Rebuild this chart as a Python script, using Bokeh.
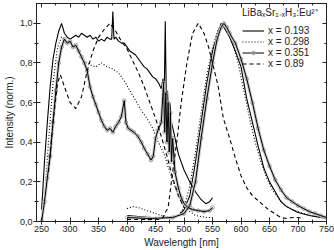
from bokeh.plotting import figure
from bokeh.models import (LinearAxis, Range1d, Legend, LegendItem,
                          CustomJSTickFormatter, FixedTicker)
from bokeh.embed import file_html
from bokeh.resources import INLINE

# ---- data ----
# x = 0.193 (solid)
ex193_wl = [250, 255, 260, 265, 270, 275, 280, 285, 290, 295, 300, 305, 310, 315, 320, 325, 330, 335, 340, 345,
            350, 355, 360, 365, 370, 373, 375, 377, 380, 385, 390, 395, 400, 405, 410, 415, 420, 425, 430, 435,
            440, 445, 450, 455, 460, 463, 465, 467, 469, 471, 473, 475, 478, 482, 490, 500, 510, 520, 530, 538, 545, 550]
ex193_i = [0.06, 0.30, 0.50, 0.68, 0.82, 0.90, 0.96, 1.00, 0.95, 0.93, 0.92, 0.93, 0.94, 0.93, 0.95, 0.94, 0.93, 0.94, 0.92, 0.93,
           0.91, 0.92, 0.91, 0.93, 0.92, 0.92, 1.06, 0.92, 0.93, 0.91, 0.90, 0.90, 0.88, 0.86, 0.85, 0.84, 0.82, 0.80, 0.78, 0.77,
           0.75, 0.73, 0.72, 0.70, 0.67, 0.72, 0.60, 1.01, 0.58, 0.66, 0.52, 0.60, 0.50, 0.45, 0.34, 0.26, 0.20, 0.15, 0.11, 0.09, 0.10, 0.12]
em193_wl = [400, 420, 440, 460, 480, 490, 500, 510, 520, 530, 540, 550, 557, 565, 572, 580, 590, 600, 610, 620,
            630, 640, 650, 660, 670, 680, 690, 700, 720, 740, 750]
em193_i = [0.03, 0.025, 0.02, 0.02, 0.02, 0.03, 0.06, 0.13, 0.30, 0.50, 0.70, 0.86, 0.93, 1.00, 0.97, 0.93, 0.86, 0.78, 0.62, 0.50,
           0.38, 0.27, 0.20, 0.15, 0.10, 0.075, 0.06, 0.045, 0.03, 0.02, 0.015]

# x = 0.298 (dotted)
ex298_wl = [255, 262, 270, 278, 285, 295, 305, 315, 325, 335, 345, 355, 365, 375, 385, 395, 405, 415, 425, 435,
            445, 455, 465, 475, 485, 495, 505, 520, 540, 550]
ex298_i = [0.10, 0.40, 0.70, 0.88, 0.93, 0.91, 0.89, 0.86, 0.81, 0.79, 0.78, 0.80, 0.78, 0.77, 0.75, 0.71, 0.66, 0.61, 0.56, 0.52,
           0.47, 0.40, 0.34, 0.25, 0.17, 0.10, 0.06, 0.03, 0.02, 0.02]
em298_wl = [400, 410, 420, 430, 440, 450, 460, 470, 480, 490, 500, 510, 520, 530, 540, 550, 560, 567, 575, 585,
            595, 605, 615, 625, 635, 645, 655, 665, 675, 690, 710, 730, 750]
em298_i = [0.065, 0.075, 0.07, 0.06, 0.05, 0.04, 0.03, 0.025, 0.02, 0.03, 0.07, 0.18, 0.35, 0.55, 0.74, 0.88, 0.97, 1.00, 0.97, 0.90,
           0.80, 0.66, 0.52, 0.40, 0.30, 0.22, 0.16, 0.12, 0.085, 0.06, 0.04, 0.025, 0.02]

# x = 0.351 (solid with grey circles)
ex351_wl = [250, 255, 260, 265, 270, 275, 280, 285, 290, 295, 300, 305, 310, 315, 320, 325, 330, 335, 340, 345,
            350, 355, 360, 365, 370, 375, 380, 385, 390, 395, 398, 402, 407, 412, 419, 425, 430, 436, 442, 446,
            450, 454, 460, 464, 466, 468, 470, 472, 474, 476, 478, 480, 484, 490, 495, 500, 507, 515, 525, 535, 545, 550]
ex351_i = [0.00, 0.10, 0.22, 0.33, 0.50, 0.66, 0.80, 0.88, 0.92, 0.90, 0.91, 0.88, 0.89, 0.86, 0.83, 0.80, 0.76, 0.68, 0.63, 0.59,
           0.55, 0.51, 0.48, 0.46, 0.47, 0.45, 0.48, 0.50, 0.53, 0.61, 0.50, 0.47, 0.46, 0.45, 0.43, 0.40, 0.37, 0.34, 0.31, 0.33,
           0.42, 0.46, 0.50, 0.70, 0.45, 0.65, 0.40, 0.60, 0.35, 0.55, 0.30, 0.42, 0.25, 0.17, 0.12, 0.09, 0.07, 0.06, 0.055, 0.05, 0.055, 0.07]
em351_wl = [400, 440, 480, 500, 510, 520, 530, 540, 550, 558, 565, 570, 575, 580, 590, 600, 610, 620, 630, 640,
            650, 660, 670, 680, 690, 700, 710, 720, 730, 740, 750]
em351_i = [0.02, 0.015, 0.02, 0.04, 0.08, 0.20, 0.42, 0.62, 0.80, 0.92, 0.98, 1.00, 0.98, 0.95, 0.90, 0.82, 0.72, 0.60, 0.47, 0.36,
           0.28, 0.21, 0.16, 0.12, 0.10, 0.08, 0.065, 0.05, 0.04, 0.03, 0.02]

# x = 0.89 (dashed)
ex89_wl = [262, 270, 278, 283, 290, 300, 310, 320, 330, 340, 350, 360, 370, 380, 390, 400, 410, 420, 430, 440,
           450, 460, 470, 480, 490, 500]
ex89_i = [0.25, 0.50, 0.70, 0.74, 0.68, 0.60, 0.57, 0.63, 0.76, 0.86, 0.93, 0.97, 1.00, 0.96, 0.91, 0.87, 0.81, 0.75, 0.68, 0.60,
          0.52, 0.43, 0.33, 0.22, 0.13, 0.07]
em89_wl = [400, 440, 455, 463, 468, 472, 480, 488, 495, 505, 515, 525, 535, 543, 550, 560, 569, 580, 590, 600,
           610, 620, 636, 648, 659, 670, 680, 690, 700, 710]
em89_i = [0.01, 0.01, 0.01, 0.02, 0.05, 0.07, 0.25, 0.42, 0.60, 0.80, 0.95, 1.00, 0.95, 0.88, 0.80, 0.68, 0.52, 0.42, 0.32, 0.23,
          0.17, 0.13, 0.09, 0.06, 0.04, 0.02, 0.015, 0.02, 0.02, 0.015]

legend_title = "LiBa\u2093Sr\u2081\u208b\u2093H\u2083:Eu\u00b2\u207a"
labels = ["x = 0.193", "x = 0.298", "x = 0.351", "x = 0.89"]

x_ticks = [250, 300, 350, 400, 450, 500, 550, 600, 650, 700, 750]
x_minor = [275, 325, 375, 425, 475, 525, 575, 625, 675, 725]
y_ticks = [0.0, 0.2, 0.4, 0.6, 0.8, 1.0]
y_minor = [0.1, 0.3, 0.5, 0.7, 0.9]

FONT = "Liberation Sans"
INK = "#222222"

p = figure(width=334, height=250, x_range=Range1d(241, 750), y_range=Range1d(0, 1.1),
           output_backend="svg", toolbar_location=None,
           min_border_left=36, min_border_right=8, min_border_top=3, min_border_bottom=28)
p.xgrid.visible = False
p.ygrid.visible = False
p.outline_line_color = INK
p.outline_line_width = 1
p.background_fill_color = "white"

fmt = CustomJSTickFormatter(code="return tick.toFixed(1).replace('.', ',');")
blank = CustomJSTickFormatter(code="return '';")

for ax in (p.xaxis[0], p.yaxis[0]):
    ax.axis_line_color = INK
    ax.major_tick_line_color = INK
    ax.minor_tick_line_color = INK
    ax.major_tick_in = 4
    ax.major_tick_out = 3
    ax.minor_tick_in = 2
    ax.minor_tick_out = 2
    ax.major_label_text_font = FONT
    ax.major_label_text_font_size = "9px"
    ax.major_label_text_color = INK
    ax.axis_label_text_font = FONT
    ax.axis_label_text_font_size = "10px"
    ax.axis_label_text_font_style = "normal"
    ax.axis_label_text_color = INK
    ax.major_label_standoff = 1
    ax.axis_label_standoff = 2

p.xaxis[0].ticker = FixedTicker(ticks=x_ticks, minor_ticks=x_minor)
p.yaxis[0].ticker = FixedTicker(ticks=y_ticks, minor_ticks=y_minor)
p.yaxis[0].formatter = fmt
p.xaxis[0].axis_label = "Wavelength [nm]"
p.yaxis[0].axis_label = "Intensity (norm.)"

for loc in ("right", "above"):
    ax = LinearAxis(formatter=blank)
    if loc == "right":
        ax.ticker = FixedTicker(ticks=y_ticks, minor_ticks=y_minor)
    else:
        ax.ticker = FixedTicker(ticks=x_ticks, minor_ticks=x_minor)
    ax.major_label_text_color = None
    ax.major_label_standoff = 0
    ax.major_tick_in = 4
    ax.major_tick_out = 0
    ax.minor_tick_in = 2
    ax.minor_tick_out = 0
    ax.axis_line_color = INK
    ax.major_tick_line_color = INK
    ax.minor_tick_line_color = INK
    p.add_layout(ax, loc)

# series
r193a = p.line(ex193_wl, ex193_i, line_color="black", line_width=1.1)
p.line(em193_wl, em193_i, line_color="black", line_width=1.1)

r298a = p.line(ex298_wl, ex298_i, line_color="black", line_width=1.1, line_dash="1 2")
p.line(em298_wl, em298_i, line_color="black", line_width=1.1, line_dash="1 2")

# x = 0.351: grey circle markers (dense in the original) drawn as a grey halo + markers
p.line(ex351_wl, ex351_i, line_color="#c8c8c8", line_width=3)
p.line(em351_wl, em351_i, line_color="#c8c8c8", line_width=3)
r351m = p.scatter(ex351_wl, ex351_i, marker="circle", size=3.5, fill_alpha=0.0,
                  line_color="#a0a0a0", line_width=1)
p.scatter(em351_wl, em351_i, marker="circle", size=3.5, fill_alpha=0.0, line_color="#a0a0a0", line_width=1)
r351a = p.line(ex351_wl, ex351_i, line_color="black", line_width=1.0)
p.line(em351_wl, em351_i, line_color="black", line_width=1.0)

r89a = p.line(ex89_wl, ex89_i, line_color="black", line_width=1.1, line_dash="4 3")
p.line(em89_wl, em89_i, line_color="black", line_width=1.1, line_dash="4 3")

legend = Legend(items=[
    LegendItem(label=labels[0], renderers=[r193a]),
    LegendItem(label=labels[1], renderers=[r298a]),
    LegendItem(label=labels[2], renderers=[r351a, r351m]),
    LegendItem(label=labels[3], renderers=[r89a]),
], location=(206, 152))
legend.title = legend_title
legend.title_text_font = FONT
legend.title_text_font_size = "10px"
legend.title_text_font_style = "normal"
legend.title_text_color = INK
legend.title_standoff = 6
legend.label_text_font = FONT
legend.label_text_font_size = "10px"
legend.label_text_color = INK
legend.label_standoff = 4
legend.label_height = 9
legend.glyph_height = 9
legend.glyph_width = 22
legend.spacing = 0
legend.padding = 0
legend.margin = 0
legend.border_line_color = None
legend.background_fill_alpha = 0.0
p.add_layout(legend)

open("out.html", "w").write(file_html(p, INLINE))
